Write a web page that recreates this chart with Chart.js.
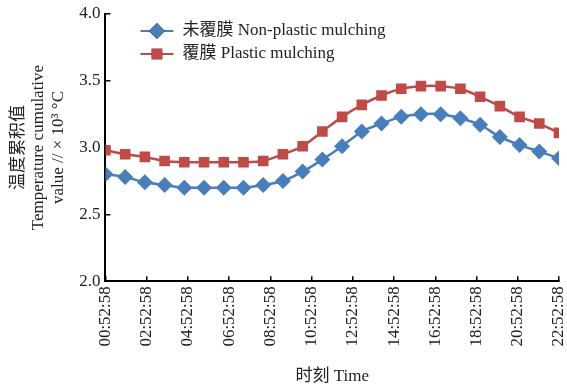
<!DOCTYPE html>
<html>
<head>
<meta charset="utf-8">
<script src="https://cdn.jsdelivr.net/npm/chart.js@4.4.1/dist/chart.umd.min.js"></script>
<style>
  html, body { margin: 0; padding: 0; background: #fff; }
  #wrap { width: 567px; height: 385px; position: relative; }
</style>
</head>
<body>
<div id="wrap"><canvas id="tempChart"></canvas></div>
<script>
// hourly samples (index = hour of day)
const sampleTimes = ['00:52:58', '01:52:58', '02:52:58', '03:52:58', '04:52:58', '05:52:58',
    '06:52:58', '07:52:58', '08:52:58', '09:52:58', '10:52:58', '11:52:58',
    '12:52:58', '13:52:58', '14:52:58', '15:52:58', '16:52:58', '17:52:58',
    '18:52:58', '19:52:58', '20:52:58', '21:52:58', '22:52:58', '23:52:58'];

const nonPlastic = [2.80, 2.78, 2.74, 2.72, 2.70, 2.70, 2.70, 2.70, 2.72, 2.75, 2.82, 2.91,
    3.01, 3.12, 3.18, 3.23, 3.25, 3.25, 3.22, 3.17, 3.08, 3.02, 2.97, 2.92];

const plastic = [2.98, 2.95, 2.93, 2.90, 2.89, 2.89, 2.89, 2.89, 2.90, 2.95, 3.01, 3.12,
    3.23, 3.32, 3.39, 3.44, 3.46, 3.46, 3.44, 3.38, 3.31, 3.23, 3.18, 3.11];

// axis labels shown under the chart
const timeTicks = ['00:52:58', '02:52:58', '04:52:58', '06:52:58', '08:52:58', '10:52:58',
    '12:52:58', '14:52:58', '16:52:58', '18:52:58', '20:52:58', '22:52:58'];

const seriesNames = ['未覆膜 Non-plastic mulching', '覆膜 Plastic mulching'];

const BLUE = '#4a7ebb';
const RED = '#be4b48';
const FONT = '"Liberation Serif", "Noto Sans CJK SC", serif';

const toPoints = vals => vals.map((v, i) => ({ x: i, y: v }));

// legend drawn inside the plot, line + marker + text
const insideLegend = {
    id: 'insideLegend',
    afterDraw(chart) {
        const ctx = chart.ctx;
        const area = chart.chartArea;
        const x0 = area.left + 35;
        const rows = [area.top + 17, area.top + 40];
        ctx.save();
        chart.data.datasets.forEach((ds, i) => {
            const y = rows[i];
            ctx.strokeStyle = ds.borderColor;
            ctx.lineWidth = 2;
            ctx.beginPath();
            ctx.moveTo(x0, y);
            ctx.lineTo(x0 + 33, y);
            ctx.stroke();
            Chart.helpers.drawPoint(ctx, {
                pointStyle: ds.pointStyle,
                radius: ds.pointRadius,
                borderWidth: 0
            }, x0 + 16.5, y);
            ctx.fillStyle = ds.backgroundColor;
            ctx.fill();
            ctx.fillStyle = '#222';
            ctx.font = '17px ' + FONT;
            ctx.textBaseline = 'middle';
            ctx.fillText(ds.label, x0 + 42, y);
        });
        ctx.restore();
    }
};

new Chart(document.getElementById('tempChart').getContext('2d'), {
    type: 'line',
    data: {
        datasets: [{
            label: seriesNames[0],
            data: toPoints(nonPlastic),
            borderColor: BLUE,
            backgroundColor: BLUE,
            borderWidth: 2.5,
            pointStyle: 'rectRot',
            pointRadius: 8,
            pointBorderWidth: 0,
            tension: 0.3
        }, {
            label: seriesNames[1],
            data: toPoints(plastic),
            borderColor: RED,
            backgroundColor: RED,
            borderWidth: 2.5,
            pointStyle: 'rect',
            pointRadius: 7.5,
            pointBorderWidth: 0,
            tension: 0.3
        }]
    },
    options: {
        responsive: true,
        maintainAspectRatio: false,
        animation: false,
        layout: { padding: { top: 14, right: 7, left: 8, bottom: 2 } },
        plugins: {
            legend: { display: false },
            tooltip: { enabled: false }
        },
        scales: {
            x: {
                type: 'linear',
                min: 0,
                max: sampleTimes.length - 1,
                afterBuildTicks: scale => {
                    const step = (sampleTimes.length - 1) / (timeTicks.length - 1);
                    scale.ticks = timeTicks.map((_, i) => ({ value: i * step }));
                },
                afterFit: scale => {
                    scale.paddingRight = 0;
                },
                ticks: {
                    autoSkip: false,
                    maxRotation: 90,
                    minRotation: 90,
                    padding: 10,
                    color: '#222',
                    font: { family: FONT, size: 17 },
                    callback: (value, index) => timeTicks[index]
                },
                grid: {
                    drawOnChartArea: false,
                    drawTicks: true,
                    tickLength: -5,
                    color: '#000',
                    lineWidth: 1.5
                },
                border: { display: true, color: '#000', width: 2 },
                title: {
                    display: true,
                    text: '时刻 Time',
                    color: '#222',
                    font: { family: FONT, size: 17 },
                    padding: { top: 10, bottom: -4 }
                }
            },
            y: {
                min: 2.0,
                max: 4.0,
                afterFit: scale => {
                    scale.paddingTop = 0;
                },
                ticks: {
                    stepSize: 0.5,
                    padding: 10,
                    color: '#222',
                    font: { family: FONT, size: 17 },
                    callback: value => value.toFixed(1)
                },
                grid: {
                    drawOnChartArea: false,
                    drawTicks: true,
                    tickLength: -5,
                    color: '#000',
                    lineWidth: 1.5
                },
                border: { display: true, color: '#000', width: 2 },
                title: {
                    display: true,
                    text: ['温度累积值', 'Temperature cumulative', 'value // × 10³ °C'],
                    color: '#222',
                    font: { family: FONT, size: 17, lineHeight: 1.2 },
                    padding: { top: 0, bottom: 0 }
                }
            }
        }
    },
    plugins: [insideLegend]
});
</script>
</body>
</html>
